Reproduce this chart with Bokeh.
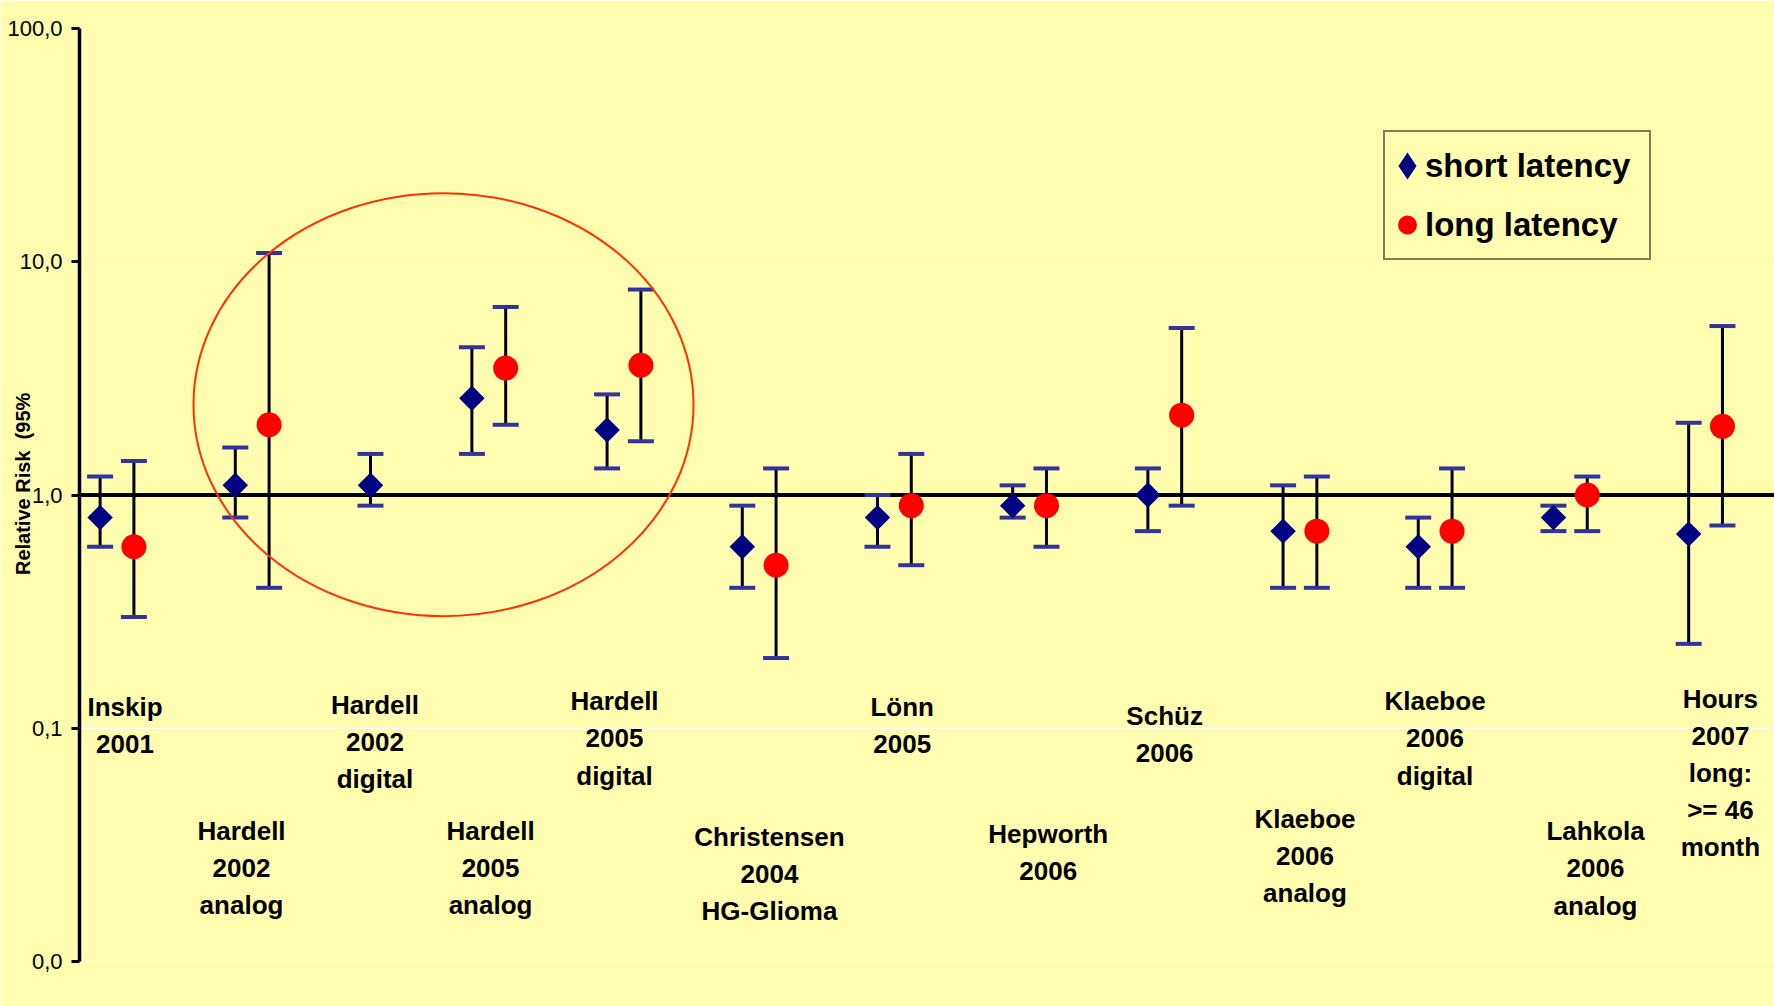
import math

from bokeh.core.properties import value
from bokeh.embed import file_html
from bokeh.models import (ColumnDataSource, FixedTicker, Legend, LegendItem,
                          Range1d, Span, TeeHead, Whisker)
from bokeh.plotting import figure
from bokeh.resources import INLINE

# ---------------------------------------------------------------- data
studies = [
    "Inskip\n2001",
    "Hardell\n2002\nanalog",
    "Hardell\n2002\ndigital",
    "Hardell\n2005\nanalog",
    "Hardell\n2005\ndigital",
    "Christensen\n2004\nHG-Glioma",
    "Lönn\n2005",
    "Hepworth\n2006",
    "Schüz\n2006",
    "Klaeboe\n2006\nanalog",
    "Klaeboe\n2006\ndigital",
    "Lahkola\n2006\nanalog",
    "Hours\n2007\nlong:\n>= 46\nmonth",
]
# x value of each study on the chart (short latency point; long is +0.25)
study_x = [1, 2, 3, 3.75, 4.75, 5.75, 6.75, 7.75, 8.75, 9.75, 10.75, 11.75, 12.75]

short_rr = [0.8, 1.1, 1.1, 2.6, 1.9, 0.6, 0.8, 0.9, 1.0, 0.7, 0.6, 0.8, 0.68]
short_lo = [0.6, 0.8, 0.9, 1.5, 1.3, 0.4, 0.6, 0.8, 0.7, 0.4, 0.4, 0.7, 0.23]
short_hi = [1.2, 1.6, 1.5, 4.3, 2.7, 0.9, 1.0, 1.1, 1.3, 1.1, 0.8, 0.9, 2.04]

long_rr = [0.6, 2.0, None, 3.5, 3.6, 0.5, 0.9, 0.9, 2.2, 0.7, 0.7, 1.0, 1.97]
long_lo = [0.3, 0.4, None, 2.0, 1.7, 0.2, 0.5, 0.6, 0.9, 0.4, 0.4, 0.7, 0.74]
long_hi = [1.4, 10.9, None, 6.4, 7.6, 1.3, 1.5, 1.3, 5.2, 1.2, 1.3, 1.2, 5.3]

tick_values = [0.01, 0.1, 1, 10, 100]
tick_labels = ["0,0", "0,1", "1,0", "10,0", "100,0"]

y_title = "Relative Risk \u00a0(95%"

# ---------------------------------------------------------------- layout
# study captions: centre x and first-line baseline, in chart coordinates
label_x = [1.184, 2.046, 3.033, 3.888, 4.805, 5.951, 6.933, 8.013, 8.874,
           9.912, 10.874, 12.061, 12.985]
label_y = [0.1236, 0.0364, 0.1259, 0.0364, 0.1303, 0.0342, 0.1236, 0.0353,
           0.1126, 0.0408, 0.1303, 0.0361, 0.1336]
LINE_STEP = 0.6938  # one caption line lower on the log axis

BG = "#FFFDB0"
FONT = "Liberation Sans"
LONG_SHIFT = 0.25
NAVY = "#000080"
RED = "#FF0000"
CAP = "#333399"

# ---------------------------------------------------------------- figure
p = figure(
    width=1774, height=1006,
    x_range=Range1d(0.8476, 13.385),
    y_range=Range1d(0.01, 100),
    y_axis_type="log",
    x_axis_location=None,
    output_backend="svg",
    toolbar_location=None,
    min_border_left=79, min_border_right=0,
    min_border_top=28, min_border_bottom=45,
    background_fill_color=BG, border_fill_color=BG,
    outline_line_color=None,
)

p.xgrid.visible = False
p.ygrid.grid_line_color = "white"
p.ygrid.grid_line_width = 1

ax = p.yaxis[0]
ax.ticker = FixedTicker(ticks=tick_values)
ax.major_label_overrides = dict(zip(tick_values, tick_labels))
ax.axis_line_color = "black"
ax.axis_line_width = 3.5
ax.major_tick_in = 0
ax.major_tick_out = 8
ax.major_tick_line_width = 3
ax.major_tick_line_color = "black"
ax.minor_tick_line_color = None
ax.major_label_standoff = 9
ax.major_label_text_font = FONT
ax.major_label_text_font_size = "22px"
ax.major_label_text_color = "black"
# the leading no-break spaces nudge the centred title a little upwards
ax.axis_label = "\u00a0\u00a0\u00a0\u00a0" + y_title
ax.axis_label_text_font = FONT
ax.axis_label_text_font_style = "bold"
ax.axis_label_text_font_size = "20px"
ax.axis_label_text_color = "black"
ax.axis_label_standoff = -30

# reference line at RR = 1
p.add_layout(Span(location=1, dimension="width", line_color="black",
                  line_width=4, level="underlay"))

# ---------------------------------------------------------------- sources
short_src = ColumnDataSource(dict(
    x=study_x, rr=short_rr, lo=short_lo, hi=short_hi))

lx, lrr, llo, lhi = [], [], [], []
for xv, r, lo, hi in zip(study_x, long_rr, long_lo, long_hi):
    if r is None:
        continue
    lx.append(xv + LONG_SHIFT)
    lrr.append(r)
    llo.append(lo)
    lhi.append(hi)
long_src = ColumnDataSource(dict(x=lx, rr=lrr, lo=llo, hi=lhi))

# ---------------------------------------------------------------- error bars
for src in (short_src, long_src):
    p.add_layout(Whisker(
        source=src, base="x", lower="lo", upper="hi", dimension="height",
        line_color="black", line_width=3,
        lower_head=TeeHead(size=26, line_color=CAP, line_width=4),
        upper_head=TeeHead(size=26, line_color=CAP, line_width=4),
    ))

# ---------------------------------------------------------------- highlight ellipse
p.ellipse(x=[3.54], y=[2.44], width=500, height=423,
          width_units="screen", height_units="screen",
          fill_color=None, line_color="#FF3300", line_width=2)

# ---------------------------------------------------------------- points
p.scatter("x", "rr", source=short_src, marker="square",
          angle=math.pi / 4, size=18, fill_color=NAVY, line_color=None)
p.scatter("x", "rr", source=long_src, marker="circle", size=25,
          fill_color=RED, line_color=None)

# hidden twins of the two series, used only for the legend swatches
leg_short = p.scatter("x", "rr", source=short_src, marker="diamond",
                      fill_color=NAVY, line_color=NAVY, line_width=7,
                      line_join="miter", visible=False)
leg_long = p.scatter("x", "rr", source=long_src, marker="circle",
                     fill_color=RED, line_color=RED, line_width=4.5,
                     visible=False)

# ---------------------------------------------------------------- captions
cx, cy, ct = [], [], []
for text, x0, y0 in zip(studies, label_x, label_y):
    for k, line in enumerate(text.split("\n")):
        cx.append(x0)
        cy.append(y0 * LINE_STEP ** k)
        ct.append(line)
p.text(x=cx, y=cy, text=ct, text_font=value(FONT), text_font_style="bold",
       text_font_size="26px", text_color="black",
       text_align="center", text_baseline="alphabetic")

# ---------------------------------------------------------------- legend
legend = Legend(
    items=[LegendItem(label="short latency", renderers=[leg_short]),
           LegendItem(label="long latency", renderers=[leg_long])],
    location=(1304, 701),
    orientation="vertical",
    glyph_width=36, glyph_height=59, label_height=59,
    label_width=220, label_standoff=0, spacing=0, padding=4, margin=0,
    label_text_font=FONT, label_text_font_style="bold",
    label_text_font_size="33px", label_text_color="black",
    border_line_color="black", border_line_width=2,
    background_fill_color=BG, background_fill_alpha=1,
    inactive_fill_alpha=0,
    click_policy="none",
)
p.add_layout(legend)

open("out.html", "w").write(file_html(p, INLINE))
